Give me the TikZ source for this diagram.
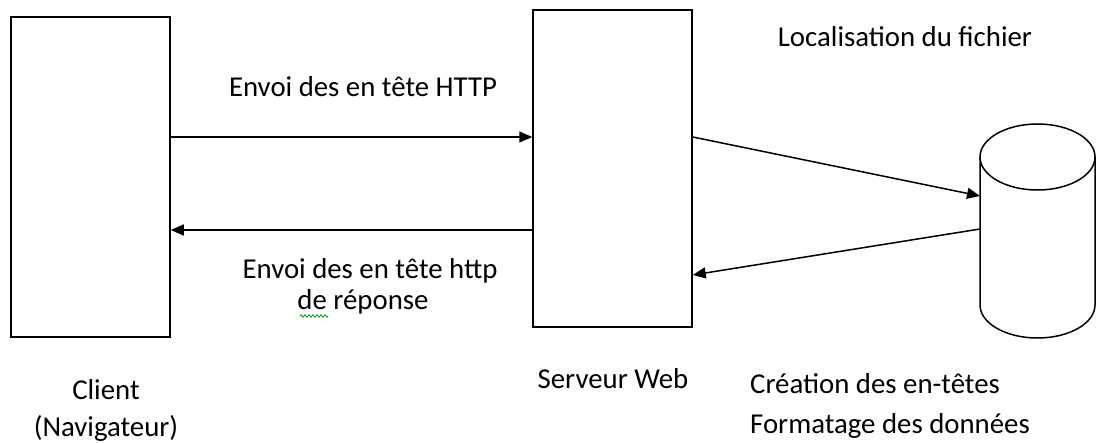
\documentclass[tikz,border=0pt]{standalone}
\usepackage{fontspec}
\setmainfont{Carlito}
\usetikzlibrary{arrows.meta,decorations.pathmorphing}
\begin{document}
\begin{tikzpicture}[x=1pt,y=-1pt,
  box/.style={draw, line width=1.5pt, inner sep=0pt},
  conn/.style={line width=1.5pt, -{Triangle[length=13pt,width=11pt]}},
  lbl/.style={inner sep=0pt, font=\fontsize{28.8}{34}\selectfont},
  outline/.style={draw, line width=1.5pt}]
\useasboundingbox (0,0) rectangle (1098,443);
% boxes
\node[box, minimum width=159pt, minimum height=320pt] (client) at (90.5,177) {};
\node[box, minimum width=159pt, minimum height=317pt] (srv) at (612.5,168.5) {};
% database cylinder
\coordinate (db) at (1037.5,157);
\draw[outline] (980,157) arc[start angle=180, end angle=-180, x radius=57.5, y radius=33];
\draw[outline] (980,157) -- (980,305) arc[start angle=180, end angle=0, x radius=57.5, y radius=33] -- (1095,157);
% connector anchors
\coordinate (c1) at (client.east |- 0,137);
\coordinate (s1) at (srv.west |- 0,137);
\coordinate (s2) at (srv.west |- 0,230);
\coordinate (c2) at (client.east |- 0,230);
\coordinate (s3) at (srv.east |- 0,137);
\coordinate (d3) at (980,196);
\coordinate (d4) at (980,229);
\coordinate (s4) at (srv.east |- 0,275);
\draw[conn] (c1) -- (s1);
\draw[conn] (s2) -- (c2);
\draw[conn] (s3) -- (d3);
\draw[conn] (d4) -- (s4);
% labels
\node[lbl, anchor=base] (t1) at (363,97) {Envoi des en tête HTTP};
\node[lbl, anchor=base] (t2) at (370,279) {Envoi des en tête http};
\node[lbl, anchor=base] (t3) at (363,310) {de réponse};
\node[lbl, anchor=base] (t4) at (905,47) {Localisation du fichier};
\node[lbl, anchor=base] (t5) at (106,400) {Client};
\node[lbl, anchor=base] (t6) at (106,437) {(Navigateur)};
\node[lbl, anchor=base] (t7) at (613,389) {Serveur Web};
\node[lbl, anchor=base west] (t8) at (750,394) {Création des en-têtes};
\node[lbl, anchor=base west] (t9) at (750,434) {Formatage des données};
% spell-check squiggle
\draw[green!60!black, line width=0.8pt, decorate, decoration={zigzag, segment length=4pt, amplitude=1.3pt}] (300,316) -- (328,316);
\end{tikzpicture}
\end{document}
